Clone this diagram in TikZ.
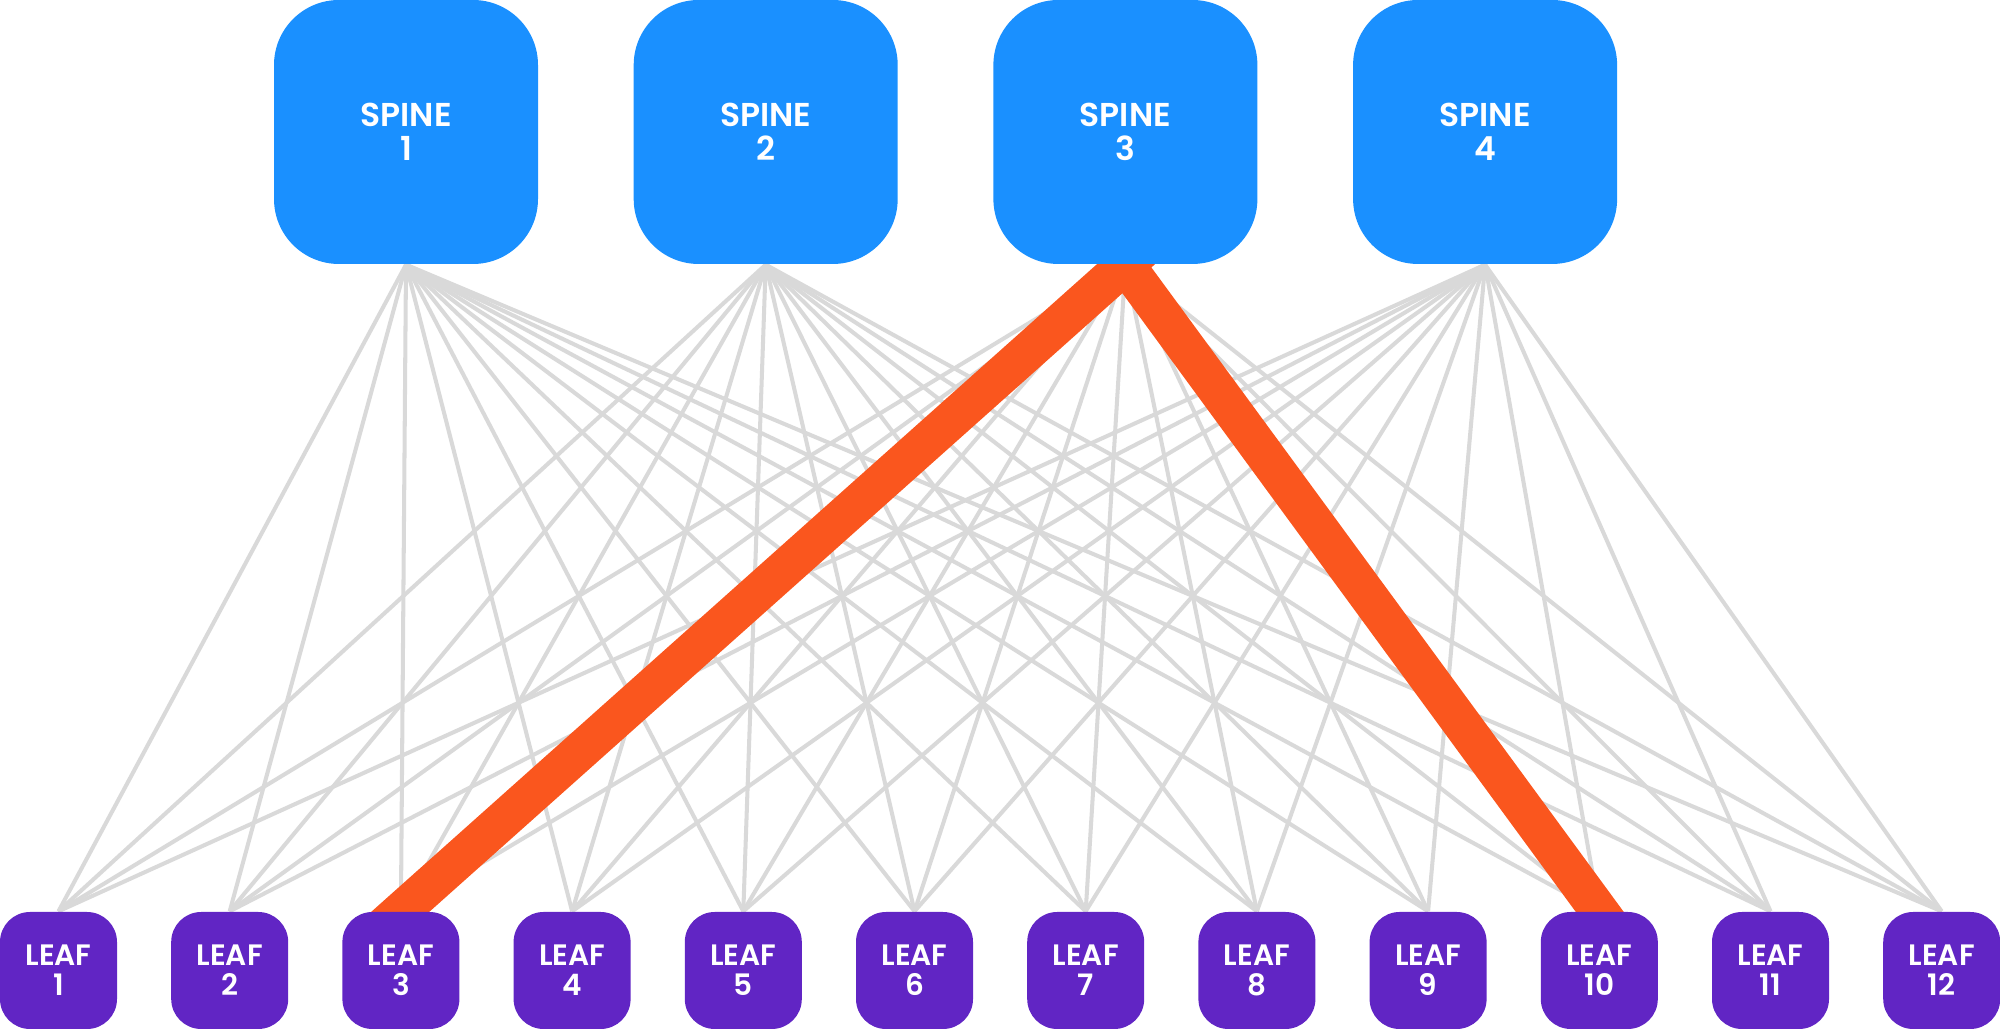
\documentclass[tikz,border=0pt]{standalone}
\usepackage{fontspec}
\setmainfont{Poppins}[BoldFont={Poppins SemiBold}]
\usetikzlibrary{backgrounds}
\definecolor{spineblue}{HTML}{1A90FF}
\definecolor{leafpurple}{HTML}{6125C4}
\definecolor{linkgray}{HTML}{D9D9D9}
\definecolor{pathorange}{HTML}{FA561E}

\begin{document}
\begin{tikzpicture}[
    spine/.style={fill=spineblue, rounded corners=0.65cm, minimum size=2.64cm, inner sep=0pt,
        text=white, align=center, font=\bfseries\fontsize{9.4}{9.7}\selectfont},
    leaf/.style={fill=leafpurple, rounded corners=0.3cm, minimum size=1.17cm, inner sep=0pt,
        text=white, align=center, font=\bfseries\fontsize{8.4}{8.5}\selectfont},
    link/.style={draw=linkgray, line width=1.15pt},
    hot/.style={draw=pathorange, line width=11pt, shorten <=-0.3cm, shorten >=-0.3cm}
]
    \useasboundingbox (0,0) rectangle (20,-10.29);
    % Spine switches
    \foreach \s in {1,...,4}
        \node[spine] (spine\s) at ({4.06+(\s-1)*3.597},-1.32) {SPINE\\\s};
    % Leaf switches
    \foreach \l in {1,...,12}
        \node[leaf] (leaf\l) at ({0.585+(\l-1)*1.712},-9.705) {LEAF\\\l};
    \begin{scope}[on background layer]
        % Full mesh links
        \foreach \s in {1,...,4}
            \foreach \l in {1,...,12}
                \draw[link] (spine\s.south) -- (leaf\l.north);
        % Highlighted path
        \draw[hot] (spine3.south) -- (leaf3.north);
        \draw[hot] (spine3.south) -- (leaf10.north);
    \end{scope}
\end{tikzpicture}
\end{document}
